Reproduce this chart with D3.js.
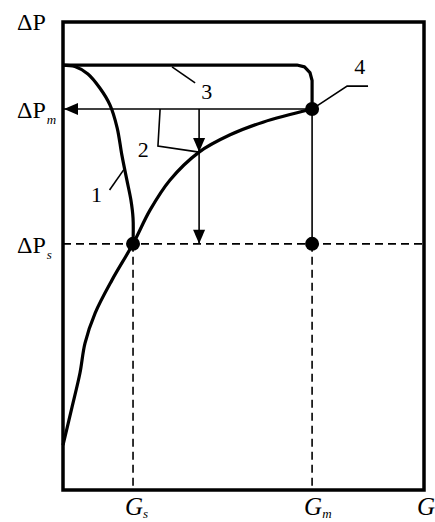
<!DOCTYPE html>
<html>
<head>
<meta charset="utf-8">
<style>
  body { margin: 0; background: #fff; }
  svg text { font-family: "Liberation Serif", "Times New Roman", serif; fill: #000; }
</style>
</head>
<body>
<svg width="435" height="522"></svg>
<script src="https://d3js.org/d3.v7.min.js"></script>
<script>
// characteristic curves, G in % of range, dP in % of range
var curve4G = [0, 2.5, 4.7, 6.1, 8.9, 13.6, 19.4, 24.1, 29.6, 37.7, 46.3, 55.4, 69.0];
var curve4P = [9.6, 17.7, 25.0, 31.4, 37.8, 44.9, 52.6, 59.8, 66.2, 72.2, 75.9, 78.6, 81.4];

var curve1G = [0, 3.3, 6.9, 10.2, 13.0, 15.0, 16.3, 17.7, 18.8, 19.4, 19.4];
var curve1P = [90.8, 90.5, 88.9, 85.9, 82.3, 77.4, 71.6, 66.2, 62.0, 58.1, 52.6];

var curve3G = [0, 64.8, 66.9, 68.4, 69.0, 69.0];
var curve3P = [90.8, 90.8, 90.4, 89.2, 87.5, 81.4];

var Gs = 19.4, Gm = 69.0, dPs = 52.6, dPm = 81.4, Gop = 37.7, Pop = 72.2;

var xTickValues = [Gs, Gm, 100];
var xTickSub = ["s", "m", ""];
var yTickValues = [100, dPm, dPs];
var yTickSub = ["", "m", "s"];

var svg = d3.select("svg"),
    margin = {top: 22, right: 11, bottom: 32, left: 63},
    w = +svg.attr("width") - margin.left - margin.right,
    h = +svg.attr("height") - margin.top - margin.bottom;

var x = d3.scaleLinear().domain([0, 100]).range([margin.left, margin.left + w]);
var y = d3.scaleLinear().domain([0, 100]).range([margin.top + h, margin.top]);

function pts(gs, ps) { return gs.map(function(g, i) { return [g, ps[i]]; }); }

var line = d3.line().x(function(d) { return x(d[0]); }).y(function(d) { return y(d[1]); });
var smooth = d3.line().curve(d3.curveCatmullRom.alpha(0.5))
    .x(function(d) { return x(d[0]); }).y(function(d) { return y(d[1]); });

var g = svg.append("g");

// dashed guides
g.append("path").attr("d", line([[0, dPs], [100, dPs]]))
  .attr("stroke", "#000").attr("stroke-width", 1.6).attr("stroke-dasharray", "8,5").attr("fill", "none");
g.append("path").attr("d", line([[Gs, dPs], [Gs, 0]]))
  .attr("stroke", "#000").attr("stroke-width", 1.6).attr("stroke-dasharray", "8,5").attr("fill", "none");
g.append("path").attr("d", line([[Gm, dPs], [Gm, 0]]))
  .attr("stroke", "#000").attr("stroke-width", 1.6).attr("stroke-dasharray", "8,5").attr("fill", "none");

// thin solid lines
g.append("path").attr("d", line([[Gm, dPm], [Gm, dPs]]))
  .attr("stroke", "#000").attr("stroke-width", 1.6).attr("fill", "none");
g.append("path").attr("d", line([[Gm, dPm], [0, dPm]]))
  .attr("stroke", "#000").attr("stroke-width", 1.6).attr("fill", "none");
g.append("path").attr("d", line([[Gop, dPm], [Gop, dPs]]))
  .attr("stroke", "#000").attr("stroke-width", 1.6).attr("fill", "none");

function arrow(px, py, dir) {
  var L = 14, W = 6, p;
  if (dir === "left") p = [[px, py], [px + L, py - W], [px + L, py + W]];
  else p = [[px, py], [px - W, py - L], [px + W, py - L]];
  g.append("path").attr("d", "M" + p.join("L") + "Z").attr("fill", "#000");
}
arrow(x(0) + 1, y(dPm), "left");
arrow(x(Gop), y(Pop), "down");
arrow(x(Gop), y(dPs), "down");

// leader lines
var leaders = [
  [[26.9, dPm], [26.3, 73.5], [Gop, Pop]],
  [[30.2, 90.4], [36.6, 87.0]],
  [[12.9, 64.1], [16.8, 68.4]],
  [[Gm, dPm], [78.7, 86.3], [84.5, 86.3]]
];
leaders.forEach(function(l) {
  g.append("path").attr("d", line(l)).attr("stroke", "#000").attr("stroke-width", 1.6).attr("fill", "none");
});

// curves
g.append("path").attr("d", smooth(pts(curve4G, curve4P)))
  .attr("stroke", "#000").attr("stroke-width", 3.2).attr("fill", "none");
g.append("path").attr("d", smooth(pts(curve1G, curve1P)))
  .attr("stroke", "#000").attr("stroke-width", 3.2).attr("fill", "none");
g.append("path").attr("d", line(pts(curve3G, curve3P)))
  .attr("stroke", "#000").attr("stroke-width", 3.2).attr("fill", "none")
  .attr("stroke-linejoin", "round");

// points
g.selectAll(".pt").data([[Gs, dPs], [Gm, dPs], [Gm, dPm]]).enter().append("circle")
  .attr("cx", function(d) { return x(d[0]); }).attr("cy", function(d) { return y(d[1]); })
  .attr("r", 7).attr("fill", "#000");

// frame
g.append("rect").attr("x", x(0)).attr("y", y(100)).attr("width", x(100) - x(0)).attr("height", y(0) - y(100))
  .attr("fill", "none").attr("stroke", "#000").attr("stroke-width", 3.5);

// curve numbers
var numLabels = ["1", "2", "3", "4"];
var numG = [9.3, 22.2, 39.8, 82.2];
var numP = [61.5, 71.1, 83.5, 88.9];
numLabels.forEach(function(t, i) {
  g.append("text").attr("x", x(numG[i])).attr("y", y(numP[i])).attr("text-anchor", "middle")
    .attr("font-size", 22).text(t);
});

// y labels
yTickValues.forEach(function(v, i) {
  var t = g.append("text").attr("x", 17).attr("y", y(v) + (i === 0 ? 8 : 9)).attr("font-size", 24);
  t.append("tspan").text("\u0394P");
  if (yTickSub[i]) t.append("tspan").attr("font-style", "italic").attr("font-size", 13).attr("dy", 6).attr("dx", 1).text(yTickSub[i]);
});

// x labels
xTickValues.forEach(function(v, i) {
  var t = g.append("text").attr("x", x(v) - (i === 2 ? 7 : 8)).attr("y", 515).attr("font-size", 25)
    .attr("font-style", "italic");
  t.append("tspan").text("G");
  if (xTickSub[i]) t.append("tspan").attr("font-size", 13).attr("dy", 3).text(xTickSub[i]);
});
</script>
</body>
</html>
